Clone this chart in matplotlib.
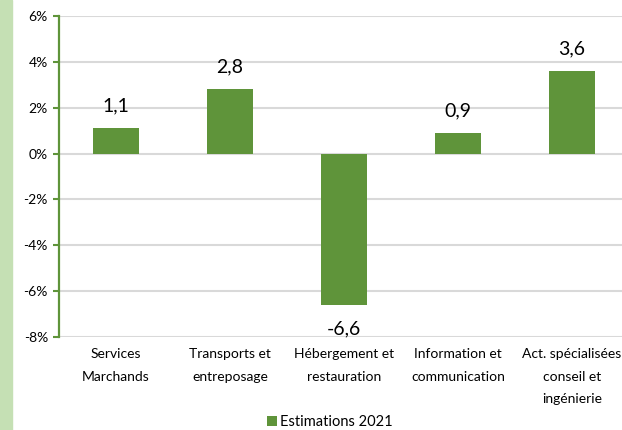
import numpy as np
import matplotlib; matplotlib.use("Agg")
import matplotlib.pyplot as plt
from matplotlib.patches import Rectangle

plt.rcParams['font.family'] = ['Lato', 'DejaVu Sans']

categories = ['Services\nMarchands', 'Transports et\nentreposage', 'Hébergement et\nrestauration',
              'Information et\ncommunication', 'Act. spécialisées\nconseil et\ningénierie']
values = [1.1, 2.8, -6.6, 0.9, 3.6]
yticks = [-8, -6, -4, -2, 0, 2, 4, 6]
series_name = 'Estimations 2021'

green = '#5F943A'
fig = plt.figure(figsize=(6.22, 4.30), dpi=100)
# light green strip on the left edge
fig.patches.append(Rectangle((0, 0), 12/622, 1, transform=fig.transFigure, color='#C5E0B4', zorder=0))

ax = fig.add_axes([59/622, 93/430, 570/622, 321/430])
x = np.arange(len(values))
ax.bar(x, values, width=0.40, color=green, zorder=3, label=series_name)
ax.set_xlim(-0.5, len(values) - 0.5)
ax.set_ylim(-8, 6)
ax.set_yticks(yticks)
ax.set_yticklabels([f'{t}%' for t in yticks], fontsize=10)
ax.set_xticks(x)
ax.set_xticklabels(categories, fontsize=10)
for t in ax.get_xticklabels():
    t.set_linespacing(2.05)
ax.tick_params(axis='x', length=0, pad=8)
ax.tick_params(axis='y', length=4, width=1.5, color=green, direction='out', pad=4)
ax.grid(axis='y', color='#D9D9D9', lw=1.5, zorder=0)
for s in ['top', 'right', 'bottom']:
    ax.spines[s].set_visible(False)
ax.spines['left'].set_color(green)
ax.spines['left'].set_linewidth(1.6)
# keep the last label inside the picture
ax.get_xticklabels()[-1].set_x(x[-1] - 0.04)

for xi, v in zip(x, values):
    lab = f'{v:.1f}'.replace('.', ',')
    if v >= 0:
        ax.annotate(lab, (xi, v), xytext=(0, 10), textcoords='offset points',
                    ha='center', va='bottom', fontsize=14)
    else:
        ax.annotate(lab, (xi, v), xytext=(0, -11), textcoords='offset points',
                    ha='center', va='top', fontsize=14)

fig.legend(loc='center', bbox_to_anchor=(330/622, 8/430), ncol=1, frameon=False,
           fontsize=10.5, handlelength=0.7, handleheight=0.7, handletextpad=0.2)
fig.savefig('out.png', dpi=100)
